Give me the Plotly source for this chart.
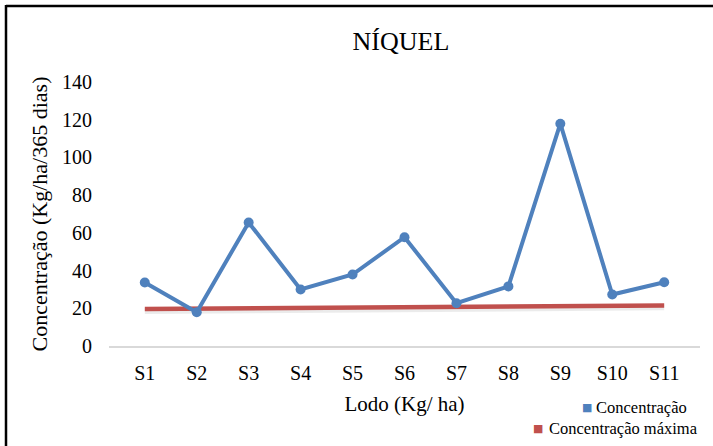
import plotly.graph_objects as go

# Níquel concentration per sludge sample and the maximum permitted level
amostras = ["S1", "S2", "S3", "S4", "S5", "S6", "S7", "S8", "S9", "S10", "S11"]
concentracao = [33.7, 17.9, 65.5, 30.0, 37.9, 57.7, 22.7, 31.6, 117.9, 27.3, 33.8]
concentracao_maxima = [19.6, 19.8, 20.0, 20.2, 20.4, 20.6, 20.7, 20.9, 21.1, 21.3, 21.5]
y_ticks = [0, 20, 40, 60, 80, 100, 120, 140]

CONC = "Concentra\u00e7\u00e3o"
TXT_CONC = CONC
TXT_MAX = CONC + " m\u00e1xima"
TXT_Y = CONC + " (Kg/ha/365 dias)"

AZUL = "#4F81BD"
VERMELHO = "#C0504D"
SERIF = "Liberation Serif, DejaVu Serif, serif"

W, H = 713, 446
ML, MR, MT, MB = 109, 13, 82, 100
PW, PH = W - ML - MR, H - MT - MB


def px_x(px):
    return (px - ML) / PW


def px_y(py):
    return (H - MB - py) / PH


fig = go.Figure()

# soft shadow under the maximum line
fig.add_trace(go.Scatter(
    x=amostras, y=[v - 1.0 for v in concentracao_maxima],
    mode="lines", line=dict(color="rgba(0,0,0,0.08)", width=6),
    hoverinfo="skip", showlegend=False,
))
fig.add_trace(go.Scatter(
    x=amostras, y=concentracao_maxima, name=TXT_MAX,
    mode="lines", line=dict(color=VERMELHO, width=4.5),
    showlegend=False,
))
fig.add_trace(go.Scatter(
    x=amostras, y=concentracao, name=TXT_CONC,
    mode="lines+markers", line=dict(color=AZUL, width=4),
    marker=dict(color=AZUL, size=10),
    showlegend=False,
))

fig.update_layout(
    width=W, height=H,
    margin=dict(l=ML, r=MR, t=MT, b=MB, pad=0),
    paper_bgcolor="white", plot_bgcolor="white",
    font=dict(family=SERIF, color="#000000"),
    title=dict(text="N\u00cdQUEL", x=0.5 * (ML + (W - MR)) / W - 0.005, xanchor="center",
               y=1 - 41 / H, yanchor="middle",
               font=dict(family=SERIF, size=26, color="#000000")),
    xaxis=dict(
        type="category", showgrid=False, zeroline=False,
        showline=True, linecolor="#D9D9D9", linewidth=1.5,
        ticks="", tickfont=dict(family=SERIF, size=20, color="#000000"),
        ticklabelstandoff=8,
        title=dict(text="Lodo (Kg/ ha)", font=dict(family=SERIF, size=21, color="#000000"),
                   standoff=14),
    ),
    yaxis=dict(
        range=[0, 140], tickvals=y_ticks, showgrid=False, zeroline=False,
        showline=False, ticks="",
        tickfont=dict(family=SERIF, size=20, color="#000000"),
        ticklabelstandoff=16,
        title=dict(text=TXT_Y,
                   font=dict(family=SERIF, size=22, color="#000000"), standoff=8),
    ),
    showlegend=False,
)

# legend entries in the lower right corner: colour key squares and labels
legend_rows = [
    (AZUL, TXT_CONC, 587, 594, 407),
    (VERMELHO, TXT_MAX, 538, 547, 428),
]
for cor, rotulo, x_quadrado, x_texto, y_linha in legend_rows:
    fig.add_annotation(
        xref="paper", yref="paper", x=px_x(x_quadrado), y=px_y(y_linha),
        xanchor="center", yanchor="middle", showarrow=False,
        text="\u25a0", font=dict(family="DejaVu Sans", size=11, color=cor),
    )
    fig.add_annotation(
        xref="paper", yref="paper", x=px_x(x_texto), y=px_y(y_linha),
        xanchor="left", yanchor="middle", showarrow=False,
        text=rotulo, font=dict(family=SERIF, size=16.5, color="#000000"),
    )

# frame edges around the chart
fig.add_shape(type="line", xref="paper", yref="paper",
              x0=px_x(6), x1=px_x(713), y0=px_y(6), y1=px_y(6),
              line=dict(color="black", width=2.5))
fig.add_shape(type="line", xref="paper", yref="paper",
              x0=px_x(6), x1=px_x(6), y0=px_y(5), y1=px_y(446),
              line=dict(color="black", width=2.5))

fig.write_html("out.html")
